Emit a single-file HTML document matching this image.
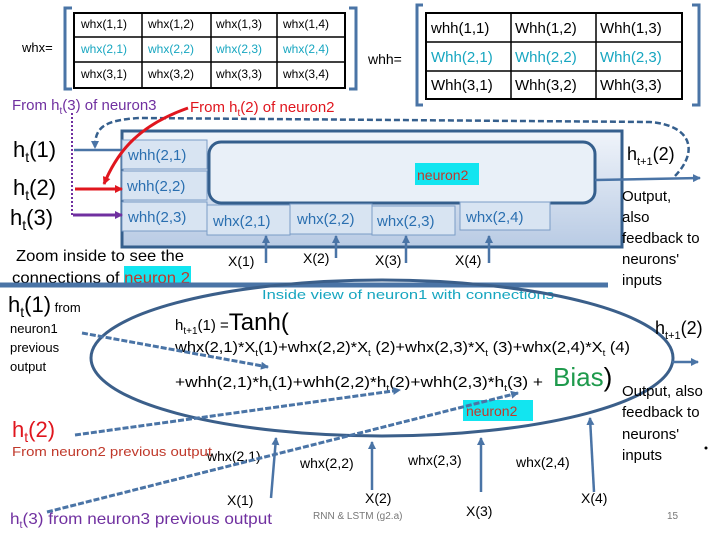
<!DOCTYPE html>
<html><head><meta charset="utf-8"><style>
html,body{margin:0;padding:0;background:#fff;width:720px;height:540px;overflow:hidden}
svg{display:block;font-family:"Liberation Sans",sans-serif}
</style></head><body>
<svg width="720" height="540" viewBox="0 0 720 540" xmlns="http://www.w3.org/2000/svg">
<defs>
<linearGradient id="g" x1="0" y1="0" x2="0" y2="1"><stop offset="0" stop-color="#f0f4fa"/><stop offset="1" stop-color="#b9cbe4"/></linearGradient>
<marker id="ab" markerWidth="8" markerHeight="8" refX="7" refY="4" orient="auto" markerUnits="userSpaceOnUse"><path d="M0,0 L8,4 L0,8z" fill="#4a74a6"/></marker>
<marker id="ar" markerWidth="8" markerHeight="8" refX="7" refY="4" orient="auto" markerUnits="userSpaceOnUse"><path d="M0,0 L8,4 L0,8z" fill="#e0161e"/></marker>
<marker id="ap" markerWidth="8" markerHeight="8" refX="7" refY="4" orient="auto" markerUnits="userSpaceOnUse"><path d="M0,0 L8,4 L0,8z" fill="#7030a0"/></marker>
</defs>
<g font-size="12">
<text x="22" y="52" font-size="13">whx=</text>
<path d="M72,8 H65 V89 H72 M349,8 H356 V89 H349" fill="none" stroke="#4a74a6" stroke-width="3"/>
<rect x="74" y="13" width="271" height="75" fill="#fff" stroke="#000" stroke-width="2"/>
<path d="M142,13V88 M211,13V88 M277,13V88 M74,37H345 M74,62H345" stroke="#000" stroke-width="1.5"/>
<text x="81" y="28">whx(1,1)</text><text x="148" y="28">whx(1,2)</text><text x="216" y="28">whx(1,3)</text><text x="283" y="28">whx(1,4)</text>
<g fill="#17a6c0"><text x="81" y="53">whx(2,1)</text><text x="148" y="53">whx(2,2)</text><text x="216" y="53">whx(2,3)</text><text x="283" y="53">whx(2,4)</text></g>
<text x="81" y="78">whx(3,1)</text><text x="148" y="78">whx(3,2)</text><text x="216" y="78">whx(3,3)</text><text x="283" y="78">whx(3,4)</text>
</g>
<g font-size="15">
<text x="368" y="64" font-size="14">whh=</text>
<path d="M423,5 H417 V105 H423 M692,5 H699 V105 H692" fill="none" stroke="#4a74a6" stroke-width="3"/>
<rect x="426" y="13" width="256" height="86" fill="#fff" stroke="#000" stroke-width="2"/>
<path d="M511,13V99 M596,13V99 M426,42H682 M426,71H682" stroke="#000" stroke-width="1.5"/>
<text x="431" y="33">whh(1,1)</text><text x="515" y="33">Whh(1,2)</text><text x="600" y="33">Whh(1,3)</text>
<g fill="#17a6c0"><text x="431" y="62">Whh(2,1)</text><text x="515" y="62">Whh(2,2)</text><text x="600" y="62">Whh(2,3)</text></g>
<text x="431" y="90">Whh(3,1)</text><text x="515" y="90">Whh(3,2)</text><text x="600" y="90">Whh(3,3)</text>
</g>
<text x="12" y="110" font-size="15" fill="#7030a0">From h<tspan font-size="10" dy="4">t</tspan><tspan dy="-4">(3) of neuron3</tspan></text>
<text x="190" y="112" font-size="15" fill="#e0161e">From h<tspan font-size="10" dy="4">t</tspan><tspan dy="-4">(2) of neuron2</tspan></text>
<rect x="122" y="131" width="500" height="116" fill="url(#g)" stroke="#355f8d" stroke-width="3"/>
<rect x="209" y="142" width="386" height="61" rx="12" fill="#e9f0f8" stroke="#355f8d" stroke-width="3"/>
<rect x="415" y="163" width="64" height="22" fill="#12e5f0"/>
<text x="417" y="180" font-size="14" fill="#c0392b">neuron2</text>
<g fill="#d8e4f2" stroke="#7a9cc6" stroke-width="1">
<rect x="122" y="140" width="85" height="29"/><rect x="122" y="171" width="85" height="29"/><rect x="122" y="202" width="85" height="29"/>
<rect x="207" y="205" width="83" height="30"/><rect x="290" y="204" width="82" height="30"/><rect x="372" y="206" width="83" height="29"/><rect x="460" y="202" width="90" height="28"/>
</g>
<g font-size="15" fill="#2a6fb0">
<text x="128" y="160">whh(2,1)</text><text x="127" y="191">whh(2,2)</text><text x="128" y="222">whh(2,3)</text>
<text x="213" y="226">whx(2,1)</text><text x="297" y="224">whx(2,2)</text><text x="377" y="226">whx(2,3)</text><text x="466" y="222">whx(2,4)</text>
</g>
<g stroke="#4a74a6" stroke-width="2.5" marker-end="url(#ab)">
<line x1="266" y1="263" x2="266" y2="236"/><line x1="336" y1="258" x2="336" y2="236"/><line x1="406" y1="263" x2="406" y2="236"/><line x1="489" y1="263" x2="489" y2="236"/>
</g>
<g font-size="14"><text x="228" y="266">X(1)</text><text x="303" y="263">X(2)</text><text x="375" y="265">X(3)</text><text x="455" y="265">X(4)</text></g>
<line x1="595" y1="180" x2="700" y2="178" stroke="#4a74a6" stroke-width="2.5" marker-end="url(#ab)"/>
<path d="M675,176 C700,150 690,125 650,122 L140,118 C100,120 95,130 95,148" fill="none" stroke="#355f8d" stroke-width="2.5" stroke-dasharray="6,3" marker-end="url(#ab)"/>
<text x="627" y="160" font-size="18">h<tspan font-size="11" dy="5">t+1</tspan><tspan dy="-5">(2)</tspan></text>
<g font-size="15"><text x="622" y="201">Output,</text><text x="622" y="222">also</text><text x="622" y="243">feedback to</text><text x="622" y="264">neurons'</text><text x="622" y="285">inputs</text></g>
<g font-size="22"><text x="13" y="157">h<tspan font-size="14" dy="5">t</tspan><tspan dy="-5">(1)</tspan></text>
<text x="13" y="195">h<tspan font-size="14" dy="5">t</tspan><tspan dy="-5">(2)</tspan></text>
<text x="10" y="225">h<tspan font-size="14" dy="5">t</tspan><tspan dy="-5">(3)</tspan></text></g>
<line x1="74" y1="150" x2="122" y2="150" stroke="#4a74a6" stroke-width="2.5"/>
<line x1="75" y1="189" x2="122" y2="189" stroke="#e0161e" stroke-width="3" marker-end="url(#ar)"/>
<line x1="73" y1="215" x2="122" y2="215" stroke="#7030a0" stroke-width="3" marker-end="url(#ap)"/>
<line x1="72" y1="113" x2="72" y2="215" stroke="#7030a0" stroke-width="2" stroke-dasharray="2,2"/>
<path d="M188,108 C140,125 118,150 104,184" fill="none" stroke="#e0161e" stroke-width="3" marker-end="url(#ar)"/>
<g font-size="16"><text x="16" y="261" textLength="168" lengthAdjust="spacingAndGlyphs">Zoom inside to see the</text><rect x="124" y="266" width="67" height="20" fill="#12e5f0"/><text x="12" y="283" textLength="178" lengthAdjust="spacingAndGlyphs">connections of <tspan fill="#c0392b">neuron 2</tspan></text></g>
<line x1="0" y1="285" x2="608" y2="285" stroke="#4a74a6" stroke-width="5"/>
<text x="262" y="299" font-size="13" fill="#17a6c0" textLength="292" lengthAdjust="spacingAndGlyphs">Inside view of neuron1 with connections</text>
<ellipse cx="382" cy="358" rx="291" ry="78" fill="none" stroke="#3b5f8a" stroke-width="3"/>
<text x="8" y="312" font-size="22">h<tspan font-size="14" dy="5">t</tspan><tspan dy="-5">(1)</tspan><tspan font-size="13"> from</tspan></text>
<g font-size="13"><text x="10" y="333">neuron1</text><text x="10" y="352">previous</text><text x="10" y="371">output</text></g>
<text x="175" y="330" font-size="15">h<tspan font-size="10" dy="4">t+1</tspan><tspan dy="-4">(1) =</tspan><tspan font-size="24">Tanh(</tspan></text>
<text x="175" y="352" font-size="15" textLength="455" lengthAdjust="spacingAndGlyphs">whx(2,1)*X<tspan font-size="9" dy="4">t</tspan><tspan dy="-4">(1)+whx(2,2)*X</tspan><tspan font-size="9" dy="4">t</tspan><tspan dy="-4"> (2)+whx(2,3)*X</tspan><tspan font-size="9" dy="4">t</tspan><tspan dy="-4"> (3)+whx(2,4)*X</tspan><tspan font-size="9" dy="4">t</tspan><tspan dy="-4"> (4)</tspan></text>
<text x="175" y="387" font-size="15" textLength="368" lengthAdjust="spacingAndGlyphs">+whh(2,1)*h<tspan font-size="9" dy="4">t</tspan><tspan dy="-4">(1)+whh(2,2)*h</tspan><tspan font-size="9" dy="4">t</tspan><tspan dy="-4">(2)+whh(2,3)*h</tspan><tspan font-size="9" dy="4">t</tspan><tspan dy="-4">(3) +</tspan></text>
<text x="553" y="386" font-size="26" fill="#1e9a4c">Bias<tspan fill="#000">)</tspan></text>
<rect x="463" y="400" width="70" height="21" fill="#12e5f0"/><text x="466" y="416" font-size="14" fill="#c0392b">neuron2</text>
<text x="655" y="334" font-size="18">h<tspan font-size="11" dy="5">t+1</tspan><tspan dy="-5">(2)</tspan></text>
<line x1="672" y1="362" x2="698" y2="362" stroke="#4a74a6" stroke-width="2.5" marker-end="url(#ab)"/>
<g font-size="15"><text x="622" y="396">Output, also</text><text x="622" y="417">feedback to</text><text x="622" y="439">neurons'</text><text x="622" y="460">inputs</text></g>
<circle cx="706" cy="448" r="1.5" fill="#000"/>
<text x="12" y="437" font-size="22" fill="#e0161e">h<tspan font-size="14" dy="5">t</tspan><tspan dy="-5">(2)</tspan></text>
<text x="12" y="456" font-size="13" fill="#c0392b" textLength="200" lengthAdjust="spacingAndGlyphs">From neuron2 previous output</text>
<g font-size="14"><text x="207" y="461">whx(2,1)</text><text x="300" y="468">whx(2,2)</text><text x="408" y="465">whx(2,3)</text><text x="516" y="467">whx(2,4)</text>
<text x="227" y="505">X(1)</text><text x="365" y="503">X(2)</text><text x="466" y="516">X(3)</text><text x="581" y="503">X(4)</text></g>
<g stroke="#4a74a6" stroke-width="2.5" marker-end="url(#ab)">
<line x1="271" y1="498" x2="276" y2="438"/><line x1="372" y1="490" x2="372" y2="442"/><line x1="481" y1="492" x2="481" y2="438"/><line x1="594" y1="492" x2="590" y2="418"/>
</g>
<g stroke="#4a74a6" stroke-width="3" stroke-dasharray="6,2" marker-end="url(#ab)">
<line x1="82" y1="333" x2="268" y2="367"/><line x1="75" y1="435" x2="400" y2="390"/><line x1="47" y1="512" x2="518" y2="393"/>
</g>
<text x="10" y="524" font-size="16" fill="#7030a0" textLength="262" lengthAdjust="spacingAndGlyphs">h<tspan font-size="10" dy="4">t</tspan><tspan dy="-4">(3) from neuron3 previous output</tspan></text>
<text x="313" y="519" font-size="10" fill="#777">RNN &amp; LSTM (g2.a)</text>
<text x="667" y="519" font-size="10" fill="#777">15</text>
</svg>
</body></html>
